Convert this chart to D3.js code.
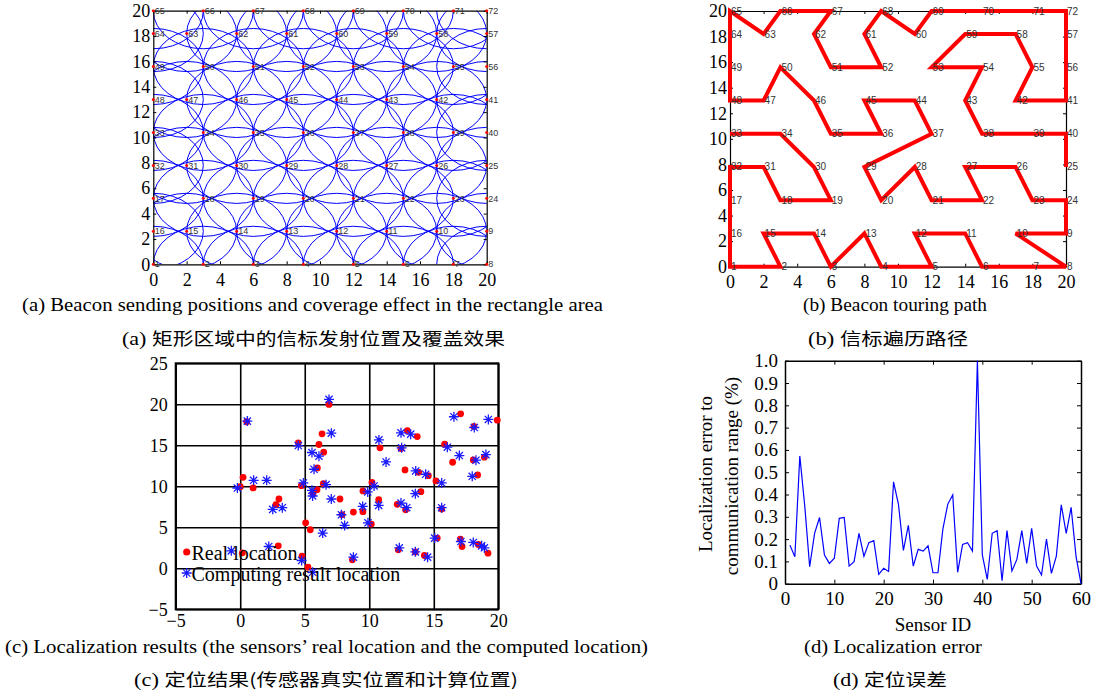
<!DOCTYPE html>
<html><head><meta charset="utf-8">
<script src="https://cdn.jsdelivr.net/npm/d3@7"></script>
<style>body{margin:0;background:#fff} svg{display:block}</style>
</head><body><svg id="c" width="1103" height="693"></svg>
<script>
// ---------- DATA ----------
// Beacon sending positions, IDs 1..72
const beaconX = [0,3,6,9,12,15,18,20, 20,17,14,11,8,5,2,0, 0,3,6,9,12,15,18,20, 20,17,14,11,8,5,2,0,
                 0,3,6,9,12,15,18,20, 20,17,14,11,8,5,2,0, 0,3,6,9,12,15,18,20, 20,17,14,11,8,5,2,0,
                 0,3,6,9,12,15,18,20];
const beaconY = [0,0,0,0,0,0,0,0, 2.6,2.6,2.6,2.6,2.6,2.6,2.6,2.6, 5.2,5.2,5.2,5.2,5.2,5.2,5.2,5.2,
                 7.8,7.8,7.8,7.8,7.8,7.8,7.8,7.8, 10.4,10.4,10.4,10.4,10.4,10.4,10.4,10.4,
                 13,13,13,13,13,13,13,13, 15.6,15.6,15.6,15.6,15.6,15.6,15.6,15.6,
                 18.2,18.2,18.2,18.2,18.2,18.2,18.2,18.2, 20,20,20,20,20,20,20,20];
const coverageRadius = 3;
// Touring path (beacon IDs in order)
const tourOrder = [25,40,39,38,43,54,53,59,58,55,42,41,56,57,72,71,70,69,60,68,61,52,51,62,67,66,63,65,64,49,
                   48,47,50,46,35,36,45,44,37,29,20,28,21,22,27,26,23,24,9,10,8,7,6,11,12,5,4,13,3,14,
                   15,2,1,16,17,32,31,18,19,30,34,33];
const gridTicks = [0,2,4,6,8,10,12,14,16,18,20];

// Localization results
const realX = [0.5,6.88,6.34,6.1,6.47,5.98,4.5,0.22,0.01,1.0,3.0,2.77,2.95,0.17,4.74,6.44,5.95,5.64,5.07,5.43,
               4.79,5.25,7.73,7.89,8.77,9.51,9.51,10.16,10.21,10.73,10.83,12.25,12.77,12.17,12.82,12.46,12.95,13.72,13.83,14.0,
               14.58,14.27,15.17,15.27,15.61,15.84,16.46,17.08,17.06,17.19,18.11,18.06,18.4,18.45,18.92,19.2,19.92,13.57,8.69];
const realY = [17.87,19.99,16.4,15.1,14.16,12.24,15.3,11.1,9.96,9.8,8.45,7.76,2.74,1.89,10.08,10.32,9.59,9.1,5.55,4.7,
               1.48,0.13,8.45,6.53,6.86,9.43,6.9,5.39,10.49,8.37,14.69,2.25,12.0,7.8,7.14,14.6,16.8,16.07,11.71,9.35,
               11.3,1.56,10.65,3.68,7.23,15.13,12.93,18.84,3.56,2.66,17.3,13.22,11.38,2.9,13.55,1.85,18.07,2.0,1.03];
const compX = [0.55,6.88,7.06,4.5,5.56,6.1,5.72,1.04,2.05,-0.22,4.89,6.65,5.56,5.61,7.06,2.52,3.26,6.39,7.84,8.09,
               2.21,-0.69,4.76,5.61,8.77,9.49,9.88,10.37,10.73,9.9,10.75,11.3,12.46,13.21,12.51,13.6,13.57,12.46,12.9,14.37,
               15.61,15.07,15.61,12.33,13.57,14.52,16.56,18.14,19.23,16.05,16.98,18.27,19.04,17.98,17.1,18.06,18.71,18.92];
const compY = [17.95,20.6,16.48,14.97,14.12,13.67,12.08,10.73,10.73,9.79,10.41,10.2,9.51,8.82,8.45,7.19,7.39,4.29,6.53,5.23,
               2.66,2.13,0.95,-0.48,1.36,7.55,9.31,10.04,7.67,5.55,15.66,12.97,16.52,16.36,14.69,11.87,9.1,7.96,7.39,11.47,
               10.41,3.68,7.39,2.5,2.01,1.36,18.48,17.17,18.15,14.77,13.75,13.18,13.87,11.22,3.27,3.15,2.74,2.5];
const locXTicks = [-5,0,5,10,15,20];
const locYTicks = [-5,0,5,10,15,20,25];

// Localization error per sensor ID 1..60
const errorValues = [0.173,0.121,0.573,0.35,0.076,0.226,0.297,0.129,0.091,0.114,
                     0.293,0.297,0.079,0.099,0.226,0.123,0.184,0.193,0.042,0.069,
                     0.055,0.457,0.356,0.149,0.262,0.079,0.154,0.146,0.170,0.049,
                     0.049,0.245,0.357,0.398,0.051,0.176,0.184,0.146,1.0,0.129,
                     0.019,0.226,0.238,0.013,0.238,0.057,0.109,0.238,0.091,0.248,
                     0.079,0.039,0.2,0.046,0.124,0.354,0.226,0.342,0.121,0.0];
const errXTicks = [0,10,20,30,40,50,60];
const errYTicks = [0,0.1,0.2,0.3,0.4,0.5,0.6,0.7,0.8,0.9,1.0];

const captions = [
  {p:"", t:"(a) Beacon sending positions and coverage effect in the rectangle area", x0:22, x1:603, y:311},
  {p:"(a) ", t:"矩形区域中的信标发射位置及覆盖效果", x0:122, x1:505, y:345},
  {p:"", t:"(b) Beacon touring path", x0:803, x1:987, y:311},
  {p:"(b) ", t:"信标遍历路径", x0:808, x1:968, y:345},
  {p:"", t:"(c) Localization results (the sensors\u2019 real location and the computed location)", x0:5, x1:648, y:653},
  {p:"(c) ", t:"定位结果(传感器真实位置和计算位置)", x0:134, x1:518, y:686},
  {p:"", t:"(d) Localization error", x0:804, x1:982, y:653},
  {p:"(d) ", t:"定位误差", x0:833, x1:947, y:686}
];

// ---------- DRAW ----------
const SERIF = "'Liberation Serif','Times New Roman',serif";
const SANS = "'Liberation Sans',Arial,sans-serif";
const CJK = "'Noto Sans CJK SC',sans-serif";
const svg = d3.select("#c");
svg.append("rect").attr("width",1103).attr("height",693).attr("fill","#fff");

function axes(g, x, y, xTicks, yTicks, fmtX, fmtY, opt) {
  const tk = opt.tick;
  const b = g.append("g").attr("transform",`translate(0,${y.range()[0]})`)
    .call(d3.axisBottom(x).tickValues(xTicks).tickFormat(fmtX).tickSizeInner(-tk).tickSizeOuter(0).tickPadding(opt.padX));
  const l = g.append("g").attr("transform",`translate(${x.range()[0]},0)`)
    .call(d3.axisLeft(y).tickValues(yTicks).tickFormat(fmtY).tickSizeInner(-tk).tickSizeOuter(0).tickPadding(opt.padY));
  g.append("g").attr("transform",`translate(0,${y.range()[1]})`)
    .call(d3.axisTop(x).tickValues(xTicks).tickFormat("").tickSizeInner(-tk).tickSizeOuter(0));
  g.append("g").attr("transform",`translate(${x.range()[1]},0)`)
    .call(d3.axisRight(y).tickValues(yTicks).tickFormat("").tickSizeInner(-tk).tickSizeOuter(0));
  g.selectAll(".domain").attr("stroke","#000").attr("stroke-width",opt.sw);
  g.selectAll(".tick line").attr("stroke","#000").attr("stroke-width",opt.tw||1);
  [b,l].forEach(a=>a.selectAll("text").attr("font-family",SERIF).attr("font-size",opt.fs).attr("fill","#000"));
}
const fmtInt = d3.format("d");

// ===== Panel (a) =====
{
  const x = d3.scaleLinear([0,20],[153.3,486.7]);
  const y = d3.scaleLinear([0,20],[264.3,10.7]);
  const g = svg.append("g");
  g.append("clipPath").attr("id","clipA").append("rect")
    .attr("x",x(0)).attr("y",y(20)).attr("width",x(20)-x(0)).attr("height",y(0)-y(20));
  const cg = g.append("g").attr("clip-path","url(#clipA)");
  cg.selectAll("ellipse").data(beaconX).join("ellipse")
    .attr("cx",(d)=>x(d)).attr("cy",(d,i)=>y(beaconY[i]))
    .attr("rx",x(coverageRadius)-x(0)).attr("ry",y(0)-y(coverageRadius))
    .attr("fill","none").attr("stroke","#0000ff").attr("stroke-width",1);
  axes(g,x,y,gridTicks,gridTicks,fmtInt,fmtInt,{tick:3,padX:9,padY:3,fs:18,sw:1.2});
  g.selectAll("circle.b").data(beaconX).join("circle").attr("class","b")
    .attr("cx",d=>x(d)).attr("cy",(d,i)=>y(beaconY[i])).attr("r",1.5).attr("fill","#ff0000");
  g.selectAll("text.lbl").data(beaconX).join("text").attr("class","lbl")
    .attr("x",d=>x(d)+1.5).attr("y",(d,i)=>y(beaconY[i])).attr("dy","0.35em")
    .attr("font-family",SANS).attr("font-size",9).attr("fill","#333").text((d,i)=>i+1);
}

// ===== Panel (b) =====
{
  const x = d3.scaleLinear([0,20],[730,1066]);
  const y = d3.scaleLinear([0,20],[266.7,11]);
  const g = svg.append("g");
  axes(g,x,y,gridTicks,gridTicks,fmtInt,fmtInt,{tick:3,padX:9,padY:3,fs:18,sw:1.2});
  const line = d3.line().x(id=>x(beaconX[id-1])).y(id=>y(beaconY[id-1]));
  g.append("path").attr("d",line(tourOrder)).attr("fill","none").attr("stroke","#ff0000")
    .attr("stroke-width",4).attr("stroke-linejoin","miter").attr("stroke-miterlimit",3);
  g.selectAll("text.lbl").data(beaconX).join("text").attr("class","lbl")
    .attr("x",d=>x(d)+1).attr("y",(d,i)=>y(beaconY[i])).attr("dy","0.35em")
    .attr("font-family",SANS).attr("font-size",10).attr("fill","#333").text((d,i)=>i+1);
}

// ===== Panel (c) =====
{
  const x = d3.scaleLinear([-5,20],[175.7,498.3]);
  const y = d3.scaleLinear([-5,25],[609.3,363.3]);
  const g = svg.append("g");
  const H = y(-5)-y(25), W = x(20)-x(-5);
  const bx = g.append("g").attr("transform",`translate(0,${y(-5)})`)
    .call(d3.axisBottom(x).tickValues(locXTicks).tickSizeInner(-H).tickSizeOuter(0).tickPadding(5));
  const by = g.append("g").attr("transform",`translate(${x(-5)},0)`)
    .call(d3.axisLeft(y).tickValues(locYTicks).tickSizeInner(-W).tickSizeOuter(0).tickPadding(8));
  g.append("rect").attr("x",x(-5)).attr("y",y(25)).attr("width",W).attr("height",H)
    .attr("fill","none").attr("stroke","#000").attr("stroke-width",2);
  g.selectAll(".domain").attr("stroke","none");
  g.selectAll(".tick line").attr("stroke","#000").attr("stroke-width",1.6);
  [bx,by].forEach(a=>a.selectAll("text").attr("font-family",SERIF).attr("font-size",18).attr("fill","#000"));
  g.selectAll("circle.r").data(realX).join("circle").attr("class","r")
    .attr("cx",d=>x(d)).attr("cy",(d,i)=>y(realY[i])).attr("r",3.4).attr("fill","#ff0000");
  const s = 5, a = 3.6;
  const star = `M${-s},0H${s}M0,${-s}V${s}M${-a},${-a}L${a},${a}M${-a},${a}L${a},${-a}`;
  g.selectAll("path.c").data(compX).join("path").attr("class","c")
    .attr("transform",(d,i)=>`translate(${x(d)},${y(compY[i])})`).attr("d",star)
    .attr("stroke","#1a1aff").attr("stroke-width",1.3).attr("fill","none");
  // legend
  const lg = g.append("g");
  lg.append("circle").attr("cx",186.7).attr("cy",552).attr("r",3.6).attr("fill","#ff0000");
  lg.append("text").attr("x",191.5).attr("y",559.5).text("Real location")
    .attr("font-family",SERIF).attr("font-size",20).attr("fill","#000");
  lg.append("path").attr("transform","translate(186.7,573)").attr("d",star)
    .attr("stroke","#1a1aff").attr("stroke-width",1.3).attr("fill","none");
  lg.append("text").attr("x",191.5).attr("y",580.5).text("Computing result location")
    .attr("font-family",SERIF).attr("font-size",20).attr("fill","#000");
}

// ===== Panel (d) =====
{
  const x = d3.scaleLinear([0,60],[785,1081]);
  const y = d3.scaleLinear([0,1],[583.7,360.7]);
  const g = svg.append("g");
  axes(g,x,y,errXTicks,errYTicks,fmtInt,d=>d===0?"0":d.toFixed(1),{tick:4,padX:8,padY:7,fs:19,sw:1.5});
  const line = d3.line().x((d,i)=>x(i+1)).y(d=>y(d));
  g.append("path").attr("d",line(errorValues)).attr("fill","none").attr("stroke","#0000ff").attr("stroke-width",1.2);
  g.append("text").attr("x",(x(0)+x(60))/2).attr("y",631).attr("text-anchor","middle")
    .attr("font-family",SERIF).attr("font-size",19).text("Sensor ID");
  g.append("text").attr("transform","translate(712,474) rotate(-90)").attr("text-anchor","middle")
    .attr("font-family",SERIF).attr("font-size",19).text("Localization error to");
  g.append("text").attr("transform","translate(738,476) rotate(-90)").attr("text-anchor","middle")
    .attr("font-family",SERIF).attr("font-size",19).text("communication range (%)");
}

// ===== Captions =====
const capSel = svg.selectAll("text.cap").data(captions).join("text").attr("class","cap")
  .attr("x",d=>d.x0).attr("y",d=>d.y).attr("textLength",d=>d.x1-d.x0).attr("lengthAdjust","spacingAndGlyphs")
  .attr("font-family",SERIF).attr("font-size",18).attr("fill","#000");
capSel.each(function(d){
  const t = d3.select(this);
  if (d.p) {
    t.append("tspan").attr("font-family",SERIF).text(d.p);
    t.append("tspan").attr("font-family",CJK).attr("font-size",17).text(d.t);
  } else {
    t.text(d.t);
  }
});
</script></body></html>
